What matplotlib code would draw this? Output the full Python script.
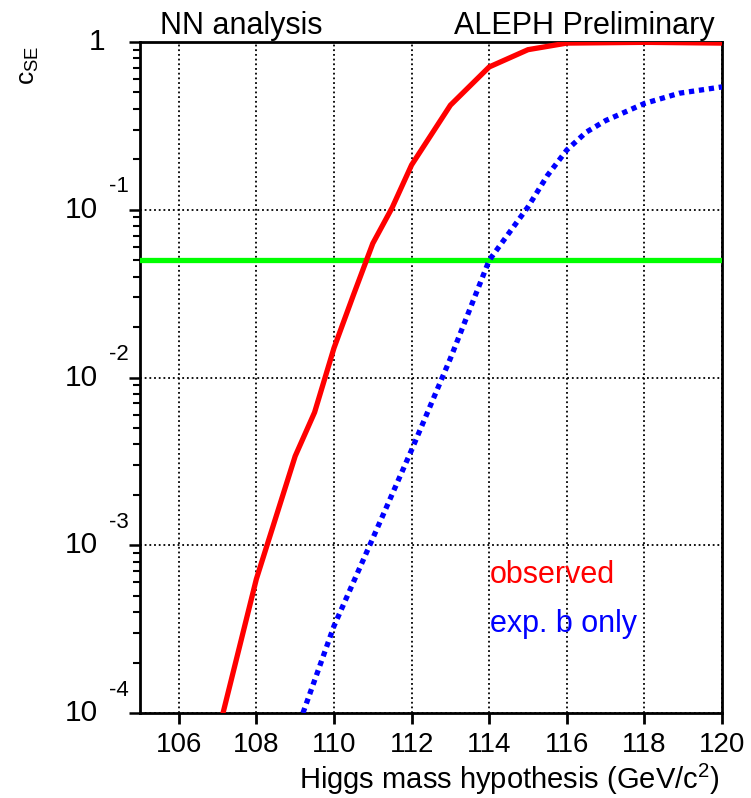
import numpy as np
import matplotlib
matplotlib.use("Agg")
import matplotlib.pyplot as plt
from matplotlib.ticker import FixedLocator, NullFormatter

plt.rcParams['font.family'] = ['Liberation Sans', 'DejaVu Sans']
plt.rcParams['mathtext.fontset'] = 'custom'
plt.rcParams['mathtext.rm'] = 'Liberation Sans'
plt.rcParams['mathtext.it'] = 'Liberation Sans'

# Data
mass_obs = [107.14, 108.0, 109.0, 109.5, 110.0, 110.5, 111.0, 111.5, 112.0, 113.0, 114.0, 115.0, 116.0, 117.0, 118.0, 119.0, 120.0]
cse_obs = [1e-4, 6.3e-4, 3.4e-3, 6.2e-3, 1.5e-2, 3.1e-2, 6.3e-2, 1.03e-1, 0.185, 0.42, 0.71, 0.90, 0.985, 0.99, 0.995, 0.99, 0.985]
mass_exp = [109.2, 110.0, 111.0, 112.0, 113.0, 114.0, 115.0, 115.5, 116.0, 116.5, 117.0, 118.0, 118.9, 120.0]
cse_exp = [1e-4, 3.3e-4, 1.1e-3, 3.7e-3, 1.3e-2, 5.0e-2, 0.104, 0.16, 0.227, 0.29, 0.34, 0.43, 0.495, 0.54]
cl_level = 0.05
xticks = [106, 108, 110, 112, 114, 116, 118, 120]
ydecades = [1e-4, 1e-3, 1e-2, 1e-1]
ydecade_exp = ['-4', '-3', '-2', '-1']

W, H = 751, 798
fig = plt.figure(figsize=(W / 100, H / 100), dpi=100)
ax = fig.add_axes([140 / W, 1 - 713 / H, (722 - 140) / W, (713 - 42) / H])

ax.plot(mass_obs, cse_obs, color='#ff0000', lw=3.8, solid_joinstyle='miter', zorder=4)
ax.plot(mass_exp, cse_exp, color='#0000ff', lw=3.8, linestyle=(0, (1.0, 0.9)),
        dash_capstyle='butt', zorder=4)
ax.axhline(cl_level, color='#00ff00', lw=3.8, zorder=3)

ax.set_yscale('log')
ax.set_xlim(105, 120)
ax.set_ylim(1e-4, 1)

ax.xaxis.set_major_locator(FixedLocator(xticks))
ax.yaxis.set_major_locator(FixedLocator(ydecades + [1.0]))
minors = [m * d for d in [1e-4, 1e-3, 1e-2, 1e-1] for m in range(2, 10)]
ax.yaxis.set_minor_locator(FixedLocator(minors))
ax.yaxis.set_major_formatter(NullFormatter())
ax.yaxis.set_minor_formatter(NullFormatter())
ax.xaxis.set_minor_locator(FixedLocator([]))

ax.grid(True, which='major', color='black', linestyle=(0, (1, 1.6)), lw=1.3)

for s in ax.spines.values():
    s.set_linewidth(2.0)
    s.set_color('black')

ax.tick_params(axis='x', which='major', direction='out', length=8, width=2.0,
               labelsize=20, pad=6)
ax.tick_params(axis='y', which='major', direction='out', length=8, width=1.8)
ax.tick_params(axis='y', which='minor', direction='out', length=5, width=1.5)

# custom y tick labels
for v, e in zip(ydecades, ydecade_exp):
    ax.annotate('10', xy=(0, v), xycoords=('axes fraction', 'data'),
                xytext=(-30.5, 0), textcoords='offset points',
                ha='right', va='center', fontsize=21.5)
    ax.annotate(e, xy=(0, v), xycoords=('axes fraction', 'data'),
                xytext=(-22.5, 16.5), textcoords='offset points',
                ha='left', va='center', fontsize=16)
ax.annotate('1', xy=(0, 1.0), xycoords=('axes fraction', 'data'),
            xytext=(-25, 0), textcoords='offset points',
            ha='right', va='center', fontsize=21.5)

# titles
fig.text(160 / W, 1 - 34 / H, 'NN analysis', fontsize=22, ha='left', va='baseline')
fig.text(715 / W, 1 - 34 / H, 'ALEPH Preliminary', fontsize=22, ha='right', va='baseline')

# axis labels
fig.text(720 / W, 1 - 789 / H, r'Higgs mass hypothesis (GeV/c$^{2}$)', fontsize=21,
         ha='right', va='baseline')
fig.text(41 / W, 1 - 65 / H, r'c$_{\rm SE}$', fontsize=19, rotation=90,
         ha='right', va='center')

# legend texts
fig.text(490 / W, 1 - 583 / H, 'observed', color='#ff0000',
         fontsize=22, ha='left', va='baseline')
fig.text(490 / W, 1 - 632 / H, 'exp. b only', color='#0000ff',
         fontsize=22, ha='left', va='baseline')

fig.savefig('out.png', dpi=100)
